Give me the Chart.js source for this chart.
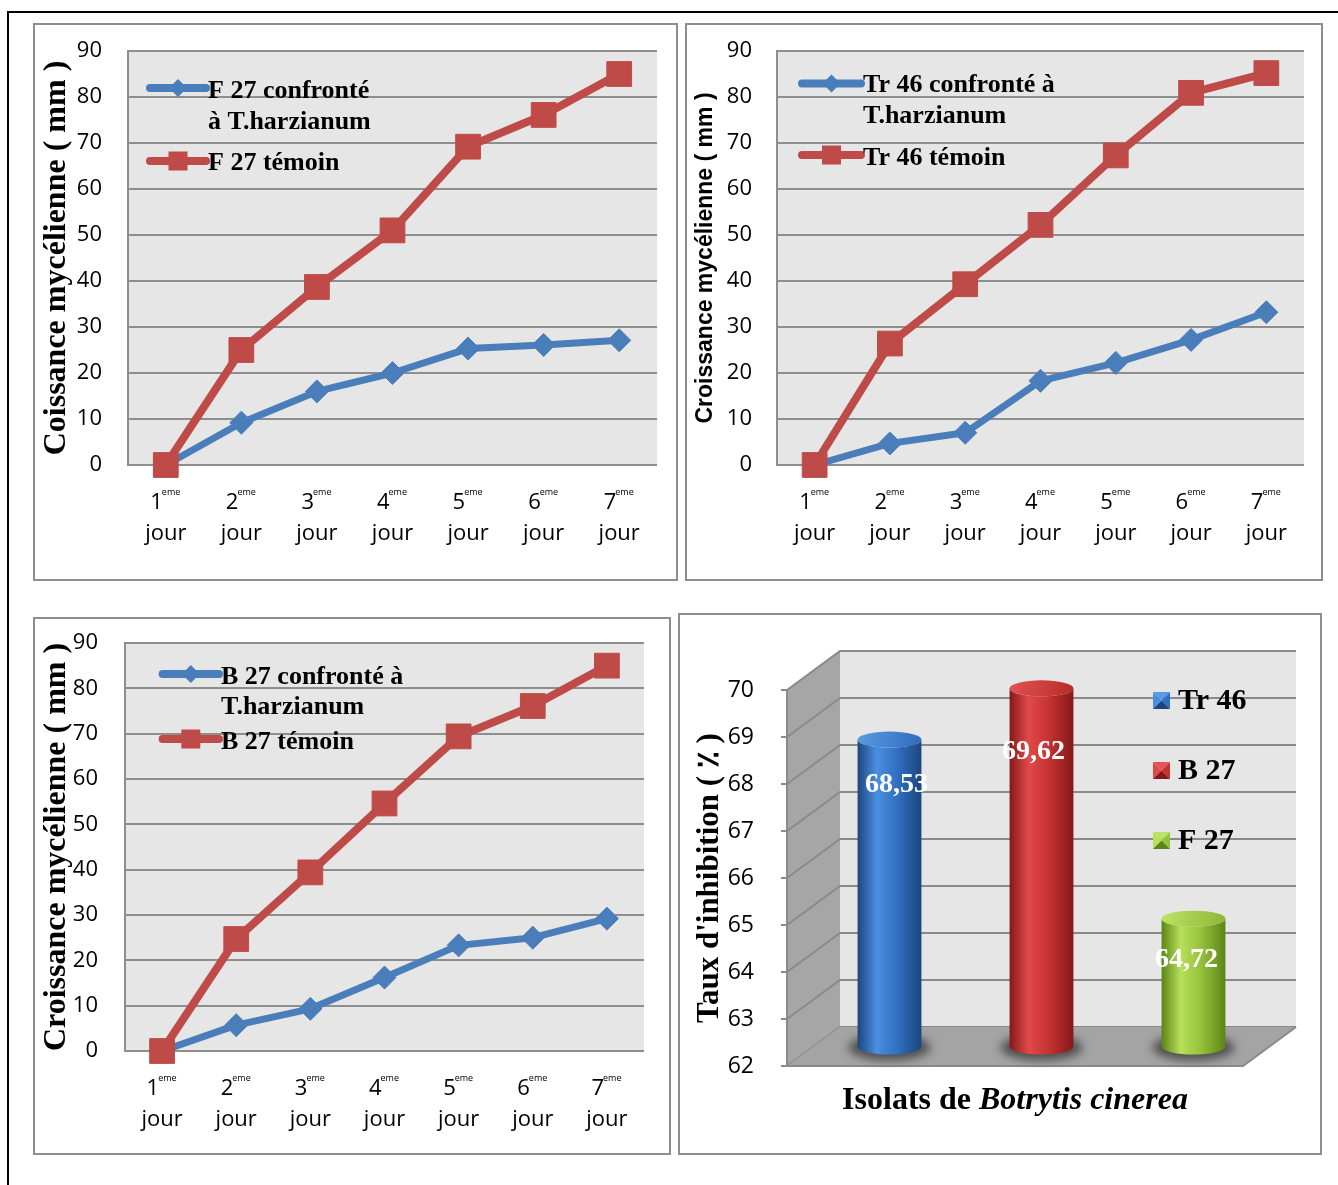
<!DOCTYPE html>
<html lang="fr">
<head>
<meta charset="utf-8">
<title>Croissance mycélienne et taux d'inhibition de Botrytis cinerea</title>
<script src="https://cdn.jsdelivr.net/npm/chart.js@4.4.1/dist/chart.umd.min.js"></script>
<style>
  html, body { margin: 0; padding: 0; background: #fff; }
  body { width: 1338px; height: 1185px; position: relative; overflow: hidden; }
  #frame { position: absolute; left: 7px; top: 11px; width: 1400px; height: 1300px;
           border-left: 2px solid #000; border-top: 2px solid #000; }
  .panel { position: absolute; box-sizing: border-box; border: 2px solid #8e8e8e; }
  canvas { position: absolute; }
</style>
</head>
<body>
<div id="frame"></div>

<div class="panel" style="left:33px; top:23px; width:645px; height:558px;"></div>
<div class="panel" style="left:685px; top:23px; width:638px; height:558px;"></div>
<div class="panel" style="left:33px; top:617px; width:638px; height:538px;"></div>
<div class="panel" style="left:678px; top:613px; width:644px; height:542px;"></div>

<canvas id="c1" width="645" height="558" style="left:33px; top:23px;"></canvas>
<canvas id="c2" width="638" height="558" style="left:685px; top:23px;"></canvas>
<canvas id="c3" width="638" height="538" style="left:33px; top:617px;"></canvas>
<canvas id="c4" width="644" height="542" style="left:678px; top:613px;"></canvas>

<script>
// ---- data -------------------------------------------------------------
const days = ['1', '2', '3', '4', '5', '6', '7'];
const daySuffix = 'eme';
const dayWord = 'jour';

// mycelial growth (mm), isolate confronted with T. harzianum vs. control
const f27Confronte  = [0, 9.2, 16, 20, 25.3, 26.1, 27.1];
const f27Temoin     = [0, 25, 38.7, 51, 69.2, 76.1, 85];
const tr46Confronte = [0, 4.7, 7, 18.3, 22.2, 27.2, 33.2];
const tr46Temoin    = [0, 26.4, 39.3, 52.2, 67.3, 80.9, 85.2];
const b27Confronte  = [0, 5.7, 9.3, 16.2, 23.3, 25, 29.2];
const b27Temoin     = [0, 24.7, 39.4, 54.6, 69.4, 76.1, 85];

// inhibition rate (%) per Botrytis cinerea isolate
const isolats = ['Tr 46', 'B 27', 'F 27'];
const tauxInhibition = [68.53, 69.62, 64.72];

// ---- styles -----------------------------------------------------------
const SERIF = '"Liberation Serif", "Times New Roman", serif';
const SANS = '"Open Sans", "Noto Sans", sans-serif';
const BLUE = '#4a7ebb';
const RED = '#be4b48';
const GRID = '#8e8e8e';
const PLOT_BG = '#e6e6e6';

// fixed axis width; the scale's own label overhang must not push the plot area
function fixAxis(width) {
  return s => { s.width = width; s.paddingTop = 0; s.paddingBottom = 0; };
}

// plot background filled behind grid lines
const plotBackground = {
  id: 'plotBackground',
  beforeDraw(chart, args, o) {
    const { ctx, chartArea: a } = chart;
    ctx.save();
    ctx.fillStyle = o.color;
    ctx.fillRect(a.left, a.top, a.right - a.left, a.bottom - a.top);
    ctx.restore();
  }
};

// day labels under the x axis: "1eme" with superscript suffix, then "jour"
const dayTicks = {
  id: 'dayTicks',
  afterDraw(chart) {
    const { ctx, chartArea: a, scales: { x } } = chart;
    const big = '22px ' + SANS;
    const small = '9px ' + SANS;
    ctx.save();
    ctx.fillStyle = '#000';
    ctx.textBaseline = 'alphabetic';
    days.forEach((d, i) => {
      const px = x.getPixelForValue(i);
      ctx.font = big;
      const wn = ctx.measureText(d).width;
      ctx.font = small;
      const ws = ctx.measureText(daySuffix).width;
      const x0 = px - (wn + ws) / 2;
      ctx.textAlign = 'left';
      ctx.font = big;
      ctx.fillText(d, x0, a.bottom + 44);
      ctx.font = small;
      ctx.fillText(daySuffix, x0 + wn - 1, a.bottom + 30);
      ctx.textAlign = 'center';
      ctx.font = big;
      ctx.fillText(dayWord, px, a.bottom + 75);
    });
    ctx.restore();
  }
};

// legend drawn inside the plot area (line sample + marker + text lines)
const innerLegend = {
  id: 'innerLegend',
  afterDraw(chart, args, o) {
    const { ctx, chartArea: a } = chart;
    ctx.save();
    chart.data.datasets.forEach((ds, i) => {
      const row = o.rows[i];
      const y = a.top + row.lineY;
      ctx.strokeStyle = ds.borderColor;
      ctx.lineWidth = 8;
      ctx.lineCap = 'round';
      ctx.beginPath();
      ctx.moveTo(a.left + o.x0, y);
      ctx.lineTo(a.left + o.x1, y);
      ctx.stroke();
      const mx = a.left + (o.x0 + o.x1) / 2;
      ctx.fillStyle = ds.backgroundColor;
      ctx.beginPath();
      if (ds.pointStyle === 'rectRot') {
        const r = 9;
        ctx.moveTo(mx - r, y); ctx.lineTo(mx, y - r); ctx.lineTo(mx + r, y); ctx.lineTo(mx, y + r);
        ctx.closePath();
      } else {
        const s = 9.5;
        ctx.rect(mx - s, y - s, 2 * s, 2 * s);
      }
      ctx.fill();
      ctx.fillStyle = '#000';
      ctx.font = 'bold 26px ' + SERIF;
      ctx.textAlign = 'left';
      ctx.textBaseline = 'alphabetic';
      ds.legendLines.forEach((t, k) => ctx.fillText(t, a.left + o.textX, a.top + row.baselines[k]));
    });
    ctx.restore();
  }
};

function growthChart(id, cfg) {
  return new Chart(document.getElementById(id), {
    type: 'line',
    data: {
      labels: days.map(d => d + daySuffix + ' ' + dayWord),
      datasets: [
        {
          label: cfg.names[0].join(' '), legendLines: cfg.names[0],
          data: cfg.confronte,
          borderColor: BLUE, backgroundColor: BLUE, borderWidth: 7,
          pointStyle: 'rectRot', pointRadius: 11.5, pointBorderWidth: 1,
          pointBackgroundColor: BLUE, pointBorderColor: BLUE,
          borderJoinStyle: 'round', tension: 0, clip: false, order: 1
        },
        {
          label: cfg.names[1].join(' '), legendLines: cfg.names[1],
          data: cfg.temoin,
          borderColor: RED, backgroundColor: RED, borderWidth: 8,
          pointStyle: 'rect', pointRadius: 17.5, pointBorderWidth: 1,
          pointBackgroundColor: RED, pointBorderColor: RED,
          borderJoinStyle: 'round', tension: 0, clip: false, order: 0
        }
      ]
    },
    options: {
      responsive: false,
      animation: false,
      events: [],
      layout: { padding: cfg.padding },
      scales: {
        x: { display: false, offset: true },
        y: {
          min: 0, max: 90,
          afterFit: fixAxis(cfg.axisWidth),
          ticks: { stepSize: 10, padding: cfg.tickPad, color: '#000', font: { family: SANS, size: 22 } },
          grid: { color: GRID, lineWidth: 2, drawTicks: false },
          border: { display: true, color: GRID, width: 2 },
          title: {
            display: true, text: cfg.title, color: '#000',
            font: cfg.titleFont,
            padding: { top: cfg.titlePad, bottom: 0 }
          }
        }
      },
      plugins: {
        legend: { display: false },
        tooltip: { enabled: false },
        plotBackground: { color: PLOT_BG },
        innerLegend: cfg.legend
      }
    },
    plugins: [plotBackground, dayTicks, innerLegend]
  });
}

growthChart('c1', {
  confronte: f27Confronte, temoin: f27Temoin,
  names: [['F 27 confronté', 'à T.harzianum'], ['F 27 témoin']],
  title: 'Coissance mycélienne ( mm )',
  titleFont: { family: SERIF, weight: 'bold', size: 32, lineHeight: 1 },
  titlePad: 7.7,
  padding: { left: 0, top: 28, right: 21, bottom: 116 },
  axisWidth: 95, tickPad: 26,
  legend: { x0: 22, x1: 78, textX: 80, rows: [{ lineY: 37, baselines: [46.6, 78.4] }, { lineY: 110, baselines: [119] }] }
});

growthChart('c2', {
  confronte: tr46Confronte, temoin: tr46Temoin,
  names: [['Tr 46 confronté à', 'T.harzianum'], ['Tr 46 témoin']],
  title: 'Croissance mycélienne ( mm )',
  titleFont: { family: '"Liberation Sans", Arial, sans-serif', weight: 'bold', size: 23, lineHeight: 1 },
  titlePad: 9.5,
  padding: { left: 0, top: 28, right: 19, bottom: 116 },
  axisWidth: 92, tickPad: 25,
  legend: { x0: 25, x1: 84, textX: 86, rows: [{ lineY: 32.4, baselines: [40.8, 72] }, { lineY: 104, baselines: [113.6] }] }
});

growthChart('c3', {
  confronte: b27Confronte, temoin: b27Temoin,
  names: [['B 27 confronté à', 'T.harzianum'], ['B 27 témoin']],
  title: 'Croissance mycélienne ( mm )',
  titleFont: { family: SERIF, weight: 'bold', size: 32, lineHeight: 1 },
  titlePad: 7.4,
  padding: { left: 0, top: 26, right: 27, bottom: 104 },
  axisWidth: 92, tickPad: 27,
  legend: { x0: 37.6, x1: 94, textX: 96, rows: [{ lineY: 31, baselines: [41, 70.8] }, { lineY: 96, baselines: [105.5] }] }
});

// ---- 3D cylinder chart ------------------------------------------------
const cylinderPalettes = [
  { edge: '#1c467f', light: '#4a8fe0', mid: '#3170c0', topA: '#5a9be4', topB: '#2f6cbc' },
  { edge: '#861818', light: '#e04a48', mid: '#c43232', topA: '#e35452', topB: '#b52a2a' },
  { edge: '#5b8516', light: '#b8df5a', mid: '#95c23a', topA: '#bde366', topB: '#8cb834' }
];
const labelShift = [[7, 45], [-8, 63], [-7, 41]];

function drawCylinder(ctx, cx, top, bottom, rx, ry, p) {
  // soft shadow on the floor
  ctx.save();
  ctx.filter = 'blur(5px)';
  ctx.fillStyle = 'rgba(50,50,50,0.75)';
  ctx.beginPath();
  ctx.ellipse(cx, bottom + 1, rx + 9, ry + 5, 0, 0, Math.PI * 2);
  ctx.fill();
  ctx.restore();

  // body
  const g = ctx.createLinearGradient(cx - rx, 0, cx + rx, 0);
  g.addColorStop(0, p.edge);
  g.addColorStop(0.3, p.light);
  g.addColorStop(0.62, p.mid);
  g.addColorStop(1, p.edge);
  ctx.fillStyle = g;
  ctx.beginPath();
  ctx.moveTo(cx - rx, top);
  ctx.lineTo(cx - rx, bottom);
  ctx.ellipse(cx, bottom, rx, ry, 0, Math.PI, 0, true);
  ctx.lineTo(cx + rx, top);
  ctx.ellipse(cx, top, rx, ry, 0, 0, Math.PI, false);
  ctx.closePath();
  ctx.fill();

  // top cap
  const t = ctx.createLinearGradient(cx - rx, top - ry, cx + rx, top + ry);
  t.addColorStop(0, p.topA);
  t.addColorStop(1, p.topB);
  ctx.fillStyle = t;
  ctx.beginPath();
  ctx.ellipse(cx, top, rx, ry, 0, 0, Math.PI * 2);
  ctx.fill();
}

function pyramidSquare(ctx, x, y, s, p) {
  const c = [x + s / 2, y + s / 2];
  const tri = (pts, col) => {
    ctx.fillStyle = col;
    ctx.beginPath();
    ctx.moveTo(pts[0][0], pts[0][1]); ctx.lineTo(pts[1][0], pts[1][1]); ctx.lineTo(c[0], c[1]);
    ctx.closePath(); ctx.fill();
  };
  tri([[x, y], [x + s, y]], p.topA);
  tri([[x, y], [x, y + s]], p.light);
  tri([[x + s, y], [x + s, y + s]], p.mid);
  tri([[x, y + s], [x + s, y + s]], p.edge);
}

const scene3d = {
  id: 'scene3d',
  beforeDraw(chart, args, o) {
    const { ctx, chartArea: a, scales: { y } } = chart;
    const dx = o.depthX, dy = o.depthY;
    ctx.save();
    // back wall
    ctx.fillStyle = o.backWall;
    ctx.fillRect(a.left + dx, a.top + dy, a.right - a.left, a.bottom - a.top);
    // side wall
    ctx.fillStyle = o.sideWall;
    ctx.beginPath();
    ctx.moveTo(a.left, a.top); ctx.lineTo(a.left + dx, a.top + dy);
    ctx.lineTo(a.left + dx, a.bottom + dy); ctx.lineTo(a.left, a.bottom);
    ctx.closePath(); ctx.fill();
    // grid lines across side and back walls, with tick marks
    ctx.strokeStyle = o.grid;
    ctx.lineWidth = 2;
    y.ticks.forEach(t => {
      const py = y.getPixelForValue(t.value);
      ctx.beginPath();
      ctx.moveTo(a.left - 6, py);
      ctx.lineTo(a.left, py);
      ctx.lineTo(a.left + dx, py + dy);
      ctx.lineTo(a.right + dx, py + dy);
      ctx.stroke();
    });
    // floor
    ctx.fillStyle = o.floor;
    ctx.beginPath();
    ctx.moveTo(a.left, a.bottom); ctx.lineTo(a.right, a.bottom);
    ctx.lineTo(a.right + dx, a.bottom + dy); ctx.lineTo(a.left + dx, a.bottom + dy);
    ctx.closePath(); ctx.fill();
    ctx.strokeStyle = o.grid;
    ctx.beginPath();
    ctx.moveTo(a.left - 6, a.bottom); ctx.lineTo(a.right, a.bottom); ctx.lineTo(a.right + dx, a.bottom + dy);
    ctx.stroke();
    // front edge of the side wall
    ctx.beginPath();
    ctx.moveTo(a.left, a.top); ctx.lineTo(a.left, a.bottom);
    ctx.stroke();
    ctx.restore();
  },
  beforeDatasetsDraw(chart, args, o) {
    const { ctx, scales: { y } } = chart;
    const floorY = y.getPixelForValue(y.min);
    ctx.save();
    chart.data.datasets.forEach((ds, i) => {
      const bar = chart.getDatasetMeta(i).data[0];
      drawCylinder(ctx, bar.x + o.depthX / 2, bar.y + o.depthY / 2, floorY + o.depthY / 2,
                   bar.width / 2, 8, cylinderPalettes[i]);
    });
    ctx.restore();
    return false;
  },
  afterDraw(chart, args, o) {
    const { ctx, chartArea: a } = chart;
    ctx.save();
    // value labels
    ctx.fillStyle = '#fff';
    ctx.font = 'bold 28px ' + SERIF;
    ctx.textAlign = 'center';
    ctx.textBaseline = 'middle';
    chart.data.datasets.forEach((ds, i) => {
      const bar = chart.getDatasetMeta(i).data[0];
      const v = ds.data[0];
      const cx = bar.x + o.depthX / 2, top = bar.y + o.depthY / 2;
      ctx.fillText(v.toFixed(2).replace('.', ','), cx + labelShift[i][0], top + labelShift[i][1]);
    });
    // legend
    ctx.textAlign = 'left';
    ctx.textBaseline = 'alphabetic';
    ctx.font = 'bold 30px ' + SERIF;
    chart.data.datasets.forEach((ds, i) => {
      const base = a.top + 19 + i * 70;
      pyramidSquare(ctx, a.left + 366, base - 17, 17, cylinderPalettes[i]);
      ctx.fillStyle = '#000';
      ctx.fillText(ds.label, a.left + 391, base);
    });
    // x axis title: plain + italic species name
    const part1 = 'Isolats de ', part2 = 'Botrytis cinerea';
    const f1 = 'bold 32px ' + SERIF, f2 = 'italic bold 32px ' + SERIF;
    ctx.font = f1; const w1 = ctx.measureText(part1).width;
    ctx.font = f2; const w2 = ctx.measureText(part2).width;
    const x0 = (a.left + a.right) / 2 - (w1 + w2) / 2;
    const yb = a.bottom + 43;
    ctx.fillStyle = '#000';
    ctx.font = f1; ctx.fillText(part1, x0, yb);
    ctx.font = f2; ctx.fillText(part2, x0 + w1, yb);
    ctx.restore();
  }
};

new Chart(document.getElementById('c4'), {
  type: 'bar',
  data: {
    labels: ['Isolats de Botrytis cinerea'],
    datasets: isolats.map((name, i) => ({
      label: name,
      data: [tauxInhibition[i]],
      backgroundColor: cylinderPalettes[i].mid
    }))
  },
  options: {
    responsive: false,
    animation: false,
    events: [],
    layout: { padding: { left: 0, top: 77, right: 79, bottom: 89 } },
    datasets: { bar: { categoryPercentage: 1, barPercentage: 0.42 } },
    scales: {
      x: { display: false },
      y: {
        min: 62, max: 70,
        afterFit: fixAxis(109),
        ticks: { stepSize: 1, padding: 25, color: '#000', font: { family: SANS, size: 23 } },
        grid: { display: false },
        border: { display: false },
        title: {
          display: true, text: "Taux d'inhibition ( ٪ )", color: '#000',
          font: { family: SERIF, weight: 'bold', size: 31, lineHeight: 1 },
          padding: { top: 16.5, bottom: 0 }
        }
      }
    },
    plugins: {
      legend: { display: false },
      tooltip: { enabled: false },
      scene3d: { depthX: 53, depthY: -39, backWall: '#e6e6e6', sideWall: '#a6a6a6', floor: '#a4a4a4', grid: '#8a8a8a' }
    }
  },
  plugins: [scene3d]
});
</script>
</body>
</html>
